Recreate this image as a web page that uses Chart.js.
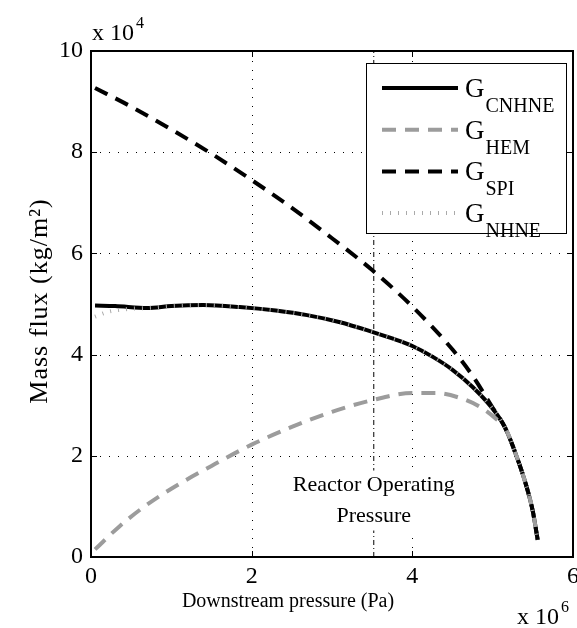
<!DOCTYPE html>
<html>
<head>
<meta charset="utf-8">
<script src="https://cdn.jsdelivr.net/npm/chart.js@4.4.1/dist/chart.umd.min.js"></script>
<style>
  body { margin: 0; background: #fff; }
  canvas { display: block; }
</style>
</head>
<body>
<canvas id="fluxChart" width="577" height="628"></canvas>
<script>
  // values: pressure in 10^6 Pa, mass flux in 10^4 kg/m2
  const xTicks = [0, 2, 4, 6];
  const yTicks = [0, 2, 4, 6, 8, 10];

  const cnhneP = [0.05, 0.3, 0.7, 1.0, 1.4, 1.85, 2.3, 2.69, 3.1, 3.5, 3.75, 4.0, 4.25, 4.5, 4.75, 5.0, 5.15, 5.3, 5.42, 5.5, 5.56];
  const cnhneG = [4.97, 4.96, 4.92, 4.96, 4.98, 4.94, 4.87, 4.78, 4.64, 4.45, 4.32, 4.17, 3.96, 3.7, 3.36, 2.93, 2.57, 1.98, 1.4, 0.9, 0.34];

  const hemP = [0.05, 0.35, 0.65, 1.0, 1.5, 2.0, 2.5, 3.0, 3.5, 4.0, 4.3, 4.6, 4.85, 5.05, 5.15, 5.3, 5.42, 5.5, 5.56];
  const hemG = [0.15, 0.6, 0.98, 1.35, 1.8, 2.22, 2.57, 2.87, 3.1, 3.24, 3.24, 3.14, 2.96, 2.72, 2.57, 1.98, 1.4, 0.9, 0.34];

  const spiP = [0.05, 0.5, 1.0, 1.5, 2.0, 2.5, 3.0, 3.5, 4.0, 4.5, 4.75, 5.0, 5.15, 5.3, 5.42, 5.5, 5.56];
  const spiG = [9.27, 8.9, 8.45, 7.97, 7.45, 6.9, 6.3, 5.67, 4.95, 4.1, 3.58, 2.95, 2.57, 1.98, 1.4, 0.9, 0.34];

  const nhneP = [0.05, 0.2, 0.45, 0.7, 1.0, 1.4, 1.85, 2.3, 2.69, 3.1, 3.5, 3.75, 4.0, 4.25, 4.5, 4.75, 5.0, 5.15, 5.3, 5.42, 5.5, 5.56];
  const nhneG = [4.75, 4.84, 4.9, 4.92, 4.96, 4.98, 4.94, 4.87, 4.78, 4.64, 4.45, 4.32, 4.17, 3.96, 3.7, 3.36, 2.93, 2.57, 1.98, 1.4, 0.9, 0.34];

  const reactorP = [3.52, 3.52];
  const reactorG = [0, 10];

  const GRAY = '#9c9c9c';
  const SERIF = '"Liberation Serif", "DejaVu Serif", serif';

  function pts(xs, ys) {
    return xs.map((x, i) => ({ x: x, y: ys[i] }));
  }

  // legend entries (drawn by hand because of the subscripts)
  const legendItems = [
    { sub: 'CNHNE', color: '#000', width: 4, dash: [] },
    { sub: 'HEM', color: GRAY, width: 4, dash: [14, 9] },
    { sub: 'SPI', color: '#000', width: 4, dash: [14, 9] },
    { sub: 'NHNE', color: '#aaa', width: 4, dash: [1, 7] }
  ];

  function expLabel(c, x, y, base, exp) {
    c.font = '24px ' + SERIF;
    c.fillText(base, x, y);
    const w = c.measureText(base).width;
    c.font = '16px ' + SERIF;
    c.fillText(exp, x + w + 2, y - 12);
  }

  const framePlugin = {
    id: 'frame',
    beforeDatasetsDraw(chart) {
      const c = chart.ctx, a = chart.chartArea;
      const xs = chart.scales.x, ys = chart.scales.y;
      c.save();
      c.strokeStyle = '#000';
      c.lineWidth = 1;
      c.setLineDash([1, 8]);
      xs.ticks.forEach(t => {
        if (t.value <= xs.min || t.value >= xs.max) return;
        const px = Math.round(xs.getPixelForValue(t.value)) + 0.5;
        c.beginPath(); c.moveTo(px, a.bottom); c.lineTo(px, a.top); c.stroke();
      });
      ys.ticks.forEach(t => {
        if (t.value <= ys.min || t.value >= ys.max) return;
        const py = Math.round(ys.getPixelForValue(t.value)) + 0.5;
        c.beginPath(); c.moveTo(a.left, py); c.lineTo(a.right, py); c.stroke();
      });
      c.restore();
    },
    afterDraw(chart) {
      const c = chart.ctx, a = chart.chartArea;
      const xs = chart.scales.x, ys = chart.scales.y;
      c.save();
      // box + inward ticks
      c.strokeStyle = '#000';
      c.lineWidth = 2;
      c.setLineDash([]);
      c.strokeRect(a.left, a.top, a.right - a.left, a.bottom - a.top);
      c.lineWidth = 1;
      xs.ticks.forEach(t => {
        const px = Math.round(xs.getPixelForValue(t.value)) + 0.5;
        c.beginPath();
        c.moveTo(px, a.bottom); c.lineTo(px, a.bottom - 6);
        c.moveTo(px, a.top); c.lineTo(px, a.top + 6);
        c.stroke();
      });
      ys.ticks.forEach(t => {
        const py = Math.round(ys.getPixelForValue(t.value)) + 0.5;
        c.beginPath();
        c.moveTo(a.left, py); c.lineTo(a.left + 6, py);
        c.moveTo(a.right, py); c.lineTo(a.right - 6, py);
        c.stroke();
      });

      c.fillStyle = '#000';
      c.textAlign = 'left';
      c.textBaseline = 'alphabetic';
      // exponent labels
      expLabel(c, 92, 40, 'x 10', '4');
      expLabel(c, 517, 624, 'x 10', '6');

      // axis titles
      c.textAlign = 'center';
      c.textBaseline = 'middle';
      c.font = '20px ' + SERIF;
      c.fillText('Downstream pressure (Pa)', 288, 602);
      c.save();
      c.translate(40, 301);
      c.rotate(-Math.PI / 2);
      c.font = '26px ' + SERIF;
      c.letterSpacing = '1px';
      c.fillText('Mass flux (kg/m²)', 0, 0);
      c.restore();

      // reactor annotation
      const rx = xs.getPixelForValue(reactorP[0]);
      const ry = ys.getPixelForValue(0.8);
      c.font = '22px ' + SERIF;
      const w1 = c.measureText('Reactor Operating').width;
      c.fillStyle = '#fff';
      c.fillRect(rx - w1 / 2 - 2, ry - 46, w1 + 4, 60);
      c.fillStyle = '#000';
      c.fillText('Reactor Operating', rx, ry - 31);
      c.fillText('Pressure', rx, ry);

      // legend
      const lx = 366, ly = 63, lw = 200, lh = 170;
      c.fillStyle = '#fff';
      c.fillRect(lx, ly, lw, lh);
      c.strokeStyle = '#000';
      c.lineWidth = 1;
      c.strokeRect(lx + 0.5, ly + 0.5, lw, lh);
      legendItems.forEach((it, i) => {
        const y = 88 + i * 41.7;
        c.save();
        c.strokeStyle = it.color;
        c.lineWidth = it.width;
        c.setLineDash(it.dash);
        c.beginPath(); c.moveTo(382, y); c.lineTo(458, y); c.stroke();
        c.restore();
        c.fillStyle = '#000';
        c.textAlign = 'left';
        c.textBaseline = 'alphabetic';
        c.font = '27px ' + SERIF;
        c.fillText('G', 465, y + 9);
        const gw = c.measureText('G').width;
        c.font = '20px ' + SERIF;
        c.fillText(it.sub, 466 + gw, y + 24);
      });
      c.restore();
    }
  };

  const ctx = document.getElementById('fluxChart').getContext('2d');

  new Chart(ctx, {
    type: 'line',
    data: {
      datasets: [
        { label: 'G_NHNE', data: pts(nhneP, nhneG), borderColor: '#aaa', borderWidth: 4, borderDash: [1, 7] },
        { label: 'G_SPI', data: pts(spiP, spiG), borderColor: '#000', borderWidth: 4, borderDash: [14, 9] },
        { label: 'G_HEM', data: pts(hemP, hemG), borderColor: GRAY, borderWidth: 4, borderDash: [14, 9] },
        { label: 'G_CNHNE', data: pts(cnhneP, cnhneG), borderColor: '#000', borderWidth: 4 },
        { label: 'Reactor', data: pts(reactorP, reactorG), borderColor: '#000', borderWidth: 1, borderDash: [5, 3, 1, 3], cubicInterpolationMode: 'default', tension: 0 }
      ]
    },
    options: {
      responsive: false,
      animation: false,
      layout: { padding: { top: 51, right: 4, left: 0, bottom: 0 } },
      elements: {
        point: { radius: 0 },
        line: { cubicInterpolationMode: 'monotone', fill: false }
      },
      scales: {
        x: {
          type: 'linear',
          min: xTicks[0],
          max: xTicks[xTicks.length - 1],
          ticks: { stepSize: 2, color: '#000', font: { family: SERIF, size: 24 }, padding: 5, maxRotation: 0 },
          grid: { display: false, drawTicks: false },
          border: { display: false },
          afterFit(s) { s.height = 71; s.paddingLeft = 0; s.paddingRight = 0; }
        },
        y: {
          min: yTicks[0],
          max: yTicks[yTicks.length - 1],
          ticks: { stepSize: 2, color: '#000', font: { family: SERIF, size: 24 }, padding: 8 },
          grid: { display: false, drawTicks: false },
          border: { display: false },
          afterFit(s) { s.width = 91; }
        }
      },
      plugins: {
        legend: { display: false },
        tooltip: { enabled: false }
      }
    },
    plugins: [framePlugin]
  });
</script>
</body>
</html>
